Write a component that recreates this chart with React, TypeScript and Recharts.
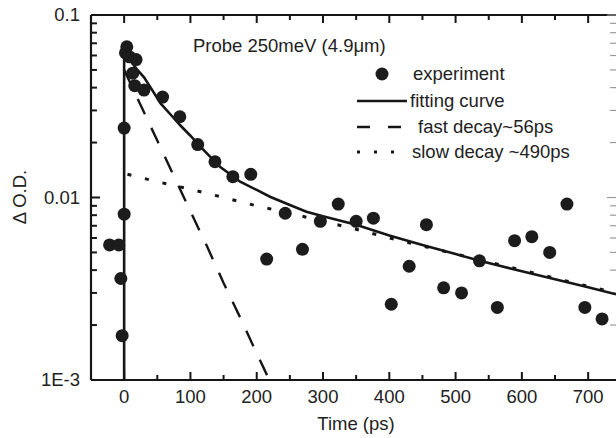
import { ComposedChart, Line, ReferenceLine, Scatter, XAxis, YAxis } from "recharts";

// measured points (time in ps, ΔO.D.)
const expTime = [-22, -8, -5, -3, 0, 0, 2, 4, 8, 18, 13, 16, 30, 58, 84, 111, 137, 164, 191, 215, 243, 269, 296, 323, 350, 376, 403, 430, 456, 482, 509, 536, 563, 589, 615, 642, 668, 695, 721];
const expOD = [0.0055, 0.0055, 0.0036, 0.00175, 0.0081, 0.024, 0.062, 0.067, 0.059, 0.057, 0.048, 0.041, 0.0388, 0.0355, 0.0277, 0.0195, 0.0157, 0.013, 0.0134, 0.0046, 0.0082, 0.0052, 0.0074, 0.0092, 0.0074, 0.0077, 0.0026, 0.0042, 0.0071, 0.0032, 0.003, 0.0045, 0.0025, 0.0058, 0.0061, 0.005, 0.0092, 0.0025, 0.00216];

// fitting curve
const fitTime = [0, 0, 5, 10, 20, 30, 40, 55, 70, 85, 100, 115, 130, 145, 160, 175, 200, 220, 250, 275, 300, 350, 400, 450, 500, 535, 600, 650, 700, 742];
const fitOD = [0.001, 0.066, 0.06, 0.056, 0.05, 0.0455, 0.04, 0.0328, 0.0285, 0.0248, 0.0218, 0.019, 0.0167, 0.0147, 0.0134, 0.0122, 0.011, 0.0101, 0.0091, 0.00835, 0.0079, 0.0071, 0.0062, 0.0055, 0.0049, 0.00451, 0.00394, 0.00356, 0.00322, 0.00295];

// fast component
const fastTime = [0, 25, 50, 75, 100, 125, 150, 175, 200, 225];
const fastOD = [0.05, 0.032, 0.0205, 0.0131, 0.0084, 0.0054, 0.0034, 0.0022, 0.0014, 0.0009];

// slow component
const slowTime = [5, 50, 100, 150, 200, 250, 300, 350, 400, 500, 600, 700, 742];
const slowOD = [0.0134, 0.0122, 0.0111, 0.01, 0.009, 0.0082, 0.0074, 0.0067, 0.006, 0.0049, 0.004, 0.00326, 0.003];

const timeTicks = [0, 50, 100, 150, 200, 250, 300, 350, 400, 450, 500, 550, 600, 650, 700];
const odTicks = [0.001, 0.002, 0.003, 0.004, 0.005, 0.006, 0.007, 0.008, 0.009, 0.01, 0.02, 0.03, 0.04, 0.05, 0.06, 0.07, 0.08, 0.09, 0.1];
const odLabels: Record<string, string> = { "0.001": "1E-3", "0.01": "0.01", "0.1": "0.1" };

const expData = expTime.map((t, i) => ({ t, v: expOD[i] }));
const fitData = fitTime.map((t, i) => ({ t, v: fitOD[i] }));
const fastData = fastTime.map((t, i) => ({ t, v: fastOD[i] }));
const slowData = slowTime.map((t, i) => ({ t, v: slowOD[i] }));

const tMin = -50;
const tMax = 742;
const odMin = 0.001;
const odMax = 0.1;

const ink = "#161616";
const font = "'Liberation Sans', Arial, sans-serif";
const fs = 18.5;

const isMajorT = (v: number) => v % 100 === 0;
const isMajorOD = (v: number) => odLabels[String(v)] !== undefined;

// inward tick marks, expressed in data units (about 8/5 px vertical, 9/6 px horizontal)
const vLong = 1.106;
const vShort = 1.065;
const hLong = 13.6;
const hShort = 9;
const bottomMarks = timeTicks.map((t) => [{ x: t, y: odMin }, { x: t, y: odMin * (isMajorT(t) ? vLong : vShort) }]);
const topMarks = timeTicks.map((t) => [{ x: t, y: odMax }, { x: t, y: odMax / (isMajorT(t) ? vLong : vShort) }]);
const leftMarks = odTicks.map((v) => [{ x: tMin, y: v }, { x: tMin + (isMajorOD(v) ? hLong : hShort), y: v }]);
const rightMarks = odTicks.map((v) => [{ x: tMax, y: v }, { x: tMax - (isMajorOD(v) ? hLong : hShort), y: v }]);

const BottomTick = ({ x, y, payload }: any) =>
  isMajorT(payload.value) ? (
    <text x={x} y={y + 23} textAnchor="middle" fontSize={fs} fontFamily={font} fill="#222">
      {payload.value}
    </text>
  ) : (
    <g />
  );

const LeftTick = ({ x, y, payload }: any) =>
  isMajorOD(payload.value) ? (
    <text x={x - 11} y={y + 6} textAnchor="end" fontSize={fs} fontFamily={font} fill="#222">
      {odLabels[String(payload.value)]}
    </text>
  ) : (
    <g />
  );

const Dot = (p: any) => <circle cx={p.cx} cy={p.cy} r={6.5} fill="#1c1c1c" />;

export default function App() {
  return (
    <div style={{ position: "absolute", left: 0, top: 0, width: 616, height: 438, background: "#fff" }}>
      <ComposedChart width={616} height={438} margin={{ top: 15, right: 0, left: 0, bottom: 0 }}>
        <XAxis
          xAxisId="bottom"
          dataKey="t"
          type="number"
          domain={[tMin, tMax]}
          ticks={timeTicks}
          interval={0}
          height={58}
          tickSize={0}
          tickMargin={0}
          tick={<BottomTick />}
          axisLine={{ stroke: ink, strokeWidth: 2.2 }}
          allowDataOverflow
        />
        <YAxis
          yAxisId="left"
          dataKey="v"
          type="number"
          scale="log"
          domain={[odMin, odMax]}
          ticks={odTicks}
          interval={0}
          width={91}
          tickSize={0}
          tickMargin={0}
          tick={<LeftTick />}
          axisLine={{ stroke: ink, strokeWidth: 2.2 }}
          allowDataOverflow
        />
        <ReferenceLine xAxisId="bottom" yAxisId="left" y={odMax} stroke={ink} strokeWidth={2.2} ifOverflow="visible" />
        {bottomMarks.map((s, i) => (
          <ReferenceLine key={`b${i}`} xAxisId="bottom" yAxisId="left" segment={s} stroke={ink} strokeWidth={2} ifOverflow="visible" />
        ))}
        {topMarks.map((s, i) => (
          <ReferenceLine key={`t${i}`} xAxisId="bottom" yAxisId="left" segment={s} stroke={ink} strokeWidth={2} ifOverflow="visible" />
        ))}
        {leftMarks.map((s, i) => (
          <ReferenceLine key={`l${i}`} xAxisId="bottom" yAxisId="left" segment={s} stroke={ink} strokeWidth={2} ifOverflow="visible" />
        ))}
        {rightMarks.map((s, i) => (
          <ReferenceLine key={`r${i}`} xAxisId="bottom" yAxisId="left" segment={s} stroke="#9a9a9a" strokeWidth={1.2} ifOverflow="visible" />
        ))}
        <Line xAxisId="bottom" yAxisId="left" data={fastData} dataKey="v" type="linear" dot={false} stroke={ink} strokeWidth={2.4} strokeDasharray="17 15" isAnimationActive={false} />
        <Line xAxisId="bottom" yAxisId="left" data={slowData} dataKey="v" type="linear" dot={false} stroke={ink} strokeWidth={3} strokeDasharray="4 14" isAnimationActive={false} />
        <Line xAxisId="bottom" yAxisId="left" data={fitData} dataKey="v" type="linear" dot={false} stroke={ink} strokeWidth={2.6} isAnimationActive={false} />
        <Scatter xAxisId="bottom" yAxisId="left" data={expData} dataKey="v" shape={<Dot />} isAnimationActive={false} />

        <text x={193} y={52} fontSize={fs} fontFamily={font} fill="#222">Probe 250meV (4.9μm)</text>

        <circle cx={382} cy={74} r={6.5} fill="#1c1c1c" />
        <text x={413} y={80} fontSize={fs} fontFamily={font} fill="#222">experiment</text>
        <line x1={357} x2={407} y1={101} y2={101} stroke={ink} strokeWidth={2.6} />
        <text x={410} y={107} fontSize={fs} fontFamily={font} fill="#222">fitting curve</text>
        <line x1={357} x2={402} y1={127} y2={127} stroke={ink} strokeWidth={2.6} strokeDasharray="13 18" />
        <text x={418} y={133} fontSize={fs} fontFamily={font} fill="#222">fast decay~56ps</text>
        <line x1={357} x2={395} y1={152} y2={152} stroke={ink} strokeWidth={3} strokeDasharray="3 14" />
        <text x={412} y={158} fontSize={fs} fontFamily={font} fill="#222">slow decay ~490ps</text>

        <text x={356} y={430} textAnchor="middle" fontSize={fs} fontFamily={font} fill="#222">Time (ps)</text>
        <text x={26} y={197} textAnchor="middle" fontSize={fs} fontFamily={font} fill="#222" transform="rotate(-90 26 197)">Δ O.D.</text>
      </ComposedChart>
    </div>
  );
}
